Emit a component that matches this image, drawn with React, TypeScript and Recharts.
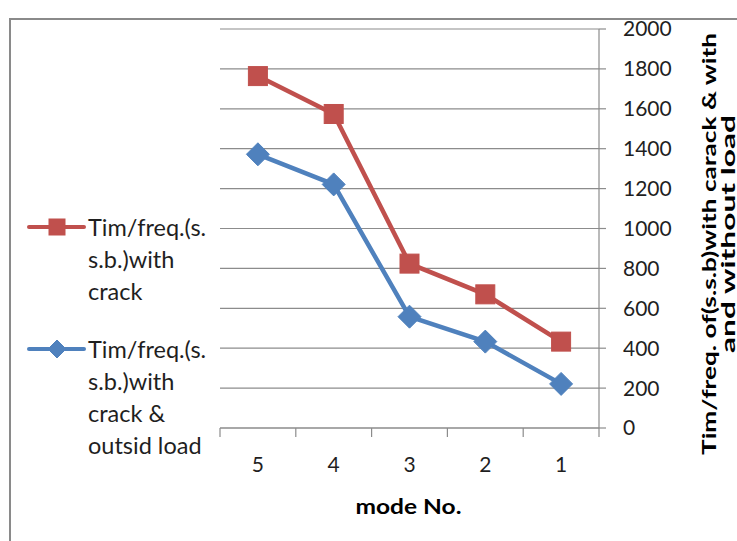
import { LineChart, Line, XAxis, YAxis, CartesianGrid, Legend } from 'recharts'

const modes = ['5', '4', '3', '2', '1']
const crack = [1764, 1574, 824, 670, 433]
const crackLoad = [1372, 1221, 558, 433, 221]
const yTicks = [0, 200, 400, 600, 800, 1000, 1200, 1400, 1600, 1800, 2000]

const crackName = 'Tim/freq.(s.s.b.)with crack'
const crackLoadName = 'Tim/freq.(s.s.b.)with crack & outsid load'
const crackLines = ['Tim/freq.(s.', 's.b.)with', 'crack']
const crackLoadLines = ['Tim/freq.(s.', 's.b.)with', 'crack &', 'outsid load']
const yTitle = ['Tim/freq. of(s.s.b)with carack & with', 'and without load']
const xTitle = 'mode No.'

const data = modes.map((m, i) => ({ mode: m, crack: crack[i], crackLoad: crackLoad[i] }))

const FONT = 'Lato, "Open Sans", sans-serif'
const RED = '#C0504D'
const BLUE = '#4F81BD'
const GRID = '#8c8c8c'
const TEXT = '#1f1f1f'

const W = 737
const H = 541
const M = { top: 29, right: 38, bottom: 53, left: 220 }
const Y_AXIS_W = 100
const X_AXIS_H = 60
const PLOT_W = W - M.left - M.right - Y_AXIS_W
const BAND = PLOT_W / modes.length

const Square = ({ cx, cy, side = 19 }: any) => (
  <rect x={cx - side / 2} y={cy - side / 2} width={side} height={side} fill={RED} stroke={RED} strokeWidth={1} />
)

const Diamond = ({ cx, cy, half = 11.5 }: any) => (
  <polygon points={`${cx},${cy - half} ${cx + half},${cy} ${cx},${cy + half} ${cx - half},${cy}`} fill={BLUE} stroke={BLUE} strokeWidth={1} />
)

const XTick = ({ x, y, payload, index }: any) => {
  const h = BAND / 2
  return (
    <g>
      <line x1={x - h} x2={x - h} y1={y} y2={y + 9} stroke={GRID} strokeWidth={1.2} />
      {index === modes.length - 1 && (
        <line x1={x + h} x2={x + h} y1={y} y2={y + 9} stroke={GRID} strokeWidth={1.2} />
      )}
      <text x={x} y={y + 35} textAnchor="middle" dominantBaseline="central" fill={TEXT} fontSize={21} fontFamily={FONT}>
        {payload.value}
      </text>
    </g>
  )
}

// title lines are long and thin in the original, so stretch them to length
const yTitleLen = [422, 238]
const YTitle = ({ viewBox }: any) => {
  const x0 = viewBox.x + 109
  return (
    <g>
      {yTitle.map((t, i) => {
        const x = x0 + i * 19
        const cy = i === 0 ? 244 : 234
        return (
          <text key={i} x={x} y={cy} transform={`rotate(-90, ${x}, ${cy})`}
            textAnchor="middle" dominantBaseline="central" fill="#000" fontSize={19} fontWeight={700} fontFamily={FONT}
            textLength={yTitleLen[i]} lengthAdjust="spacingAndGlyphs">
            {t}
          </text>
        )
      })}
    </g>
  )
}

const XTitle = ({ viewBox }: any) => (
  <text x={viewBox.x + viewBox.width / 2 - 1} y={505} textAnchor="middle" dominantBaseline="central"
    fill="#000" fontSize={21} fontWeight={700} fontFamily={FONT} textLength={106} lengthAdjust="spacingAndGlyphs">
    {xTitle}
  </text>
)

const legendItems = [
  { name: crackName, lines: crackLines, color: RED, shape: 'square' },
  { name: crackLoadName, lines: crackLoadLines, color: BLUE, shape: 'diamond' },
]

const LegendBox = () => (
  <div style={{ fontFamily: FONT, fontSize: 23.5, color: TEXT }}>
    {legendItems.map((it, k) => (
      <div key={k} style={{ display: 'flex', alignItems: 'flex-start', marginBottom: 26 }}>
        <svg width={60} height={32} style={{ display: 'block' }}>
          <line x1={3} x2={58} y1={16} y2={16} stroke={it.color} strokeWidth={4} strokeLinecap="round" />
          {it.shape === 'square' ? <Square cx={31} cy={16} side={16} /> : <Diamond cx={31} cy={16} half={9} />}
        </svg>
        <div style={{ lineHeight: '32px', marginLeft: 2, whiteSpace: 'nowrap' }}>
          {it.lines.map((l, i) => <div key={i}>{l}</div>)}
        </div>
      </div>
    ))}
  </div>
)

export default function App() {
  return (
    <div style={{ position: 'absolute', left: 0, top: 0, width: W, height: H, overflow: 'hidden', background: '#fff' }}>
      <div style={{ position: 'absolute', left: 9, top: 18, width: 800, height: 700, border: '2px solid #8a8a8a' }} />
      <div style={{ position: 'absolute', left: 0, top: 0 }}>
        <LineChart width={W} height={H} data={data} margin={M}>
          <CartesianGrid vertical={false} stroke={GRID} strokeWidth={1.2} />
          <XAxis dataKey="mode" height={X_AXIS_H} padding={{ left: BAND / 2, right: BAND / 2 }}
            axisLine={{ stroke: GRID, strokeWidth: 1.2 }} tickLine={false}
            tickSize={0} tickMargin={0} tick={<XTick />} interval={0} label={<XTitle />} />
          <YAxis orientation="right" width={Y_AXIS_W} domain={[0, 2000]} ticks={yTicks} interval={0}
            axisLine={{ stroke: GRID, strokeWidth: 1.2 }} tickLine={{ stroke: GRID, strokeWidth: 1.2 }} tickSize={7} tickMargin={17}
            tick={{ fill: TEXT, fontSize: 21, fontFamily: FONT }} label={<YTitle />} />
          <Legend layout="vertical" align="center" verticalAlign="middle" content={<LegendBox />}
            wrapperStyle={{ left: 26, top: 211, width: 200 }} />
          <Line name={crackName} dataKey="crack" stroke={RED} strokeWidth={4.5} dot={<Square />} activeDot={false} isAnimationActive={false} />
          <Line name={crackLoadName} dataKey="crackLoad" stroke={BLUE} strokeWidth={4.5} dot={<Diamond />} activeDot={false} isAnimationActive={false} />
        </LineChart>
      </div>
    </div>
  )
}
